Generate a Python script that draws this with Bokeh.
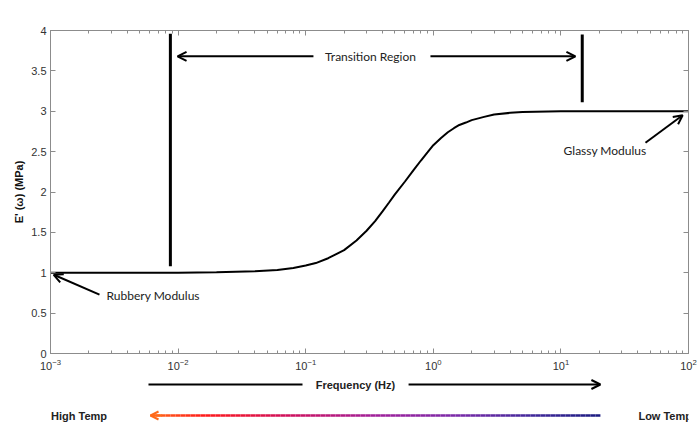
import numpy as np
from bokeh.plotting import figure
from bokeh.layouts import column
from bokeh.models import (Range1d, LinearAxis, FixedTicker, Label, Arrow, OpenHead)
from bokeh.embed import file_html
from bokeh.resources import INLINE

# ---- data ----
freq = [0.001, 0.01, 0.02, 0.04, 0.06, 0.08, 0.1, 0.12, 0.15, 0.2, 0.25, 0.3,
        0.35, 0.4, 0.45, 0.5, 0.6, 0.7, 0.8, 0.9, 1.0, 1.15, 1.3, 1.45, 1.6,
        1.8, 2.0, 2.5, 3.0, 4.0, 5.0, 10.0, 30.0, 100.0]
modulus = [1.0, 1.0, 1.005, 1.02, 1.035, 1.06, 1.09, 1.12, 1.18, 1.28, 1.40,
           1.52, 1.64, 1.76, 1.87, 1.97, 2.13, 2.27, 2.39, 2.49, 2.58, 2.67,
           2.74, 2.79, 2.83, 2.86, 2.89, 2.93, 2.96, 2.98, 2.99, 3.0, 3.0, 3.0]
x_ticks = [1e-3, 1e-2, 1e-1, 1e0, 1e1, 1e2]
y_ticks = [0, 0.5, 1, 1.5, 2, 2.5, 3, 3.5, 4]

# annotation anchors (frequency, modulus)
transition_left = [0.0087, 1.08, 3.96]
transition_right = [14.7, 3.11, 3.95]
transition_text = ["Transition Region", 0.322, 3.68]
rubbery = ["Rubbery Modulus", 0.00275, 0.72]
glassy = ["Glassy Modulus", 10.5, 2.51]
# bottom strip anchors (frequency, pixels from strip top)
freq_label = ["Frequency (Hz)", 0.2455, 6]
high_temp = ["High Temp", 0.00101, 37]
low_temp = ["Low Temp", 40.5, 37]

TOP_H, BOT_H = 378, 45

p = figure(width=697, height=TOP_H, x_axis_type="log",
           x_range=Range1d(1e-3, 1e2), y_range=Range1d(0, 4),
           output_backend="svg", toolbar_location=None,
           min_border_left=50, min_border_right=9, min_border_top=30,
           min_border_bottom=25)
p.grid.visible = False
p.outline_line_color = "#8c8c8c"
p.background_fill_color = "white"
p.border_fill_color = "white"

minor = [m * 10.0 ** e for e in range(-3, 2) for m in range(2, 10)]

def style_axis(ax, labels=True):
    ax.axis_line_color = "#8c8c8c"
    ax.major_tick_line_color = "#8c8c8c"
    ax.minor_tick_line_color = "#8c8c8c"
    ax.major_tick_in = 5
    ax.major_tick_out = 0
    ax.minor_tick_in = 3
    ax.minor_tick_out = 0
    ax.major_label_text_font = "Liberation Sans"
    ax.major_label_text_font_size = "11px" if labels else "1px"
    ax.major_label_text_color = "#333333"
    if not labels:
        ax.major_label_text_alpha = 0
        ax.major_label_standoff = 0

xa = p.xaxis[0]
xa.ticker = FixedTicker(ticks=x_ticks, minor_ticks=minor)
style_axis(xa)
xa.major_label_standoff = 5

ya = p.yaxis[0]
ya.ticker = FixedTicker(ticks=y_ticks)
style_axis(ya)
ya.major_label_standoff = 4
ya.axis_label = "E' (\u03c9) (MPa)"
ya.axis_label_text_font = "Liberation Sans"
ya.axis_label_text_font_size = "11px"
ya.axis_label_text_font_style = "bold"
ya.axis_label_text_color = "#111111"
ya.axis_label_standoff = 3

top = LinearAxis(ticker=FixedTicker(ticks=x_ticks, minor_ticks=minor))
style_axis(top, labels=False)
p.add_layout(top, "above")
right = LinearAxis(ticker=FixedTicker(ticks=y_ticks))
style_axis(right, labels=False)
right.minor_tick_in = 0
p.add_layout(right, "right")

# main curve
p.line(freq, modulus, line_color="black", line_width=2)

# transition region boundaries
p.segment(x0=[transition_left[0], transition_right[0]],
          y0=[transition_left[1], transition_right[1]],
          x1=[transition_left[0], transition_right[0]],
          y1=[transition_left[2], transition_right[2]],
          line_color="black", line_width=3)

def arrow(fig, x0, y0, x1, y1, color="black", head=True, width=2, size=9):
    kw = dict(x_start=x0, y_start=y0, x_end=x1, y_end=y1,
              line_color=color, line_width=width)
    kw["end"] = OpenHead(size=size, line_color=color, line_width=width) if head else None
    fig.add_layout(Arrow(**kw))

def label(fig, t, x, y, font="Lato", size="12px", bold=False, align="left", color="#222222"):
    fig.add_layout(Label(x=x, y=y, text=t, text_font=font, text_font_size=size,
                         text_font_style="bold" if bold else "normal",
                         text_align=align, text_baseline="middle", text_color=color))

# transition region arrows + text
arrow(p, 0.115, 3.68, 0.0099, 3.68)
arrow(p, 0.95, 3.68, 13.0, 3.68)
label(p, transition_text[0], transition_text[1], transition_text[2], align="center")

# rubbery / glassy
arrow(p, 0.00242, 0.73, 0.00106, 0.975)
label(p, rubbery[0], rubbery[1], rubbery[2])
arrow(p, 46.0, 2.61, 90.0, 2.95)
label(p, glassy[0], glassy[1], glassy[2])

# ---- bottom strip: frequency and temperature arrows (same x frame as above) ----
q = figure(width=697, height=BOT_H, x_axis_type="log",
           x_range=p.x_range, y_range=Range1d(BOT_H, 0),
           x_axis_location=None, y_axis_location=None,
           output_backend="svg", toolbar_location=None,
           min_border_left=50, min_border_right=9, min_border_top=0,
           min_border_bottom=0)
q.grid.visible = False
q.outline_line_color = None
q.background_fill_color = "white"
q.border_fill_color = "white"

fy = freq_label[2]
arrow(q, 0.0944, fy, 0.00586, fy, head=False)
arrow(q, 0.64, fy, 20.4, fy)
label(q, freq_label[0], freq_label[1], fy, font="Liberation Sans",
      size="11px", bold=True, align="center")

stops = [(0.0, "#ff6a1a"), (0.12, "#ff1a1a"), (0.3, "#d0105a"),
         (0.5, "#a0209a"), (0.68, "#7a2aa8"), (0.85, "#40289a"), (1.0, "#1a1a80")]

def interp_color(t):
    for (t0, c0), (t1, c1) in zip(stops[:-1], stops[1:]):
        if t0 <= t <= t1:
            f = (t - t0) / (t1 - t0)
            a = [int(c0[i:i + 2], 16) for i in (1, 3, 5)]
            b = [int(c1[i:i + 2], 16) for i in (1, 3, 5)]
            return "#%02x%02x%02x" % tuple(round(a[k] + (b[k] - a[k]) * f) for k in range(3))
    return stops[-1][1]

ty = high_temp[2]
g0, g1 = np.log10(0.00608), np.log10(20.4)
n = 90
edges = 10 ** np.linspace(g0, g1, n + 1)
cols = [interp_color((i + 0.5) / n) for i in range(n)]
q.segment(x0=edges[:-1], y0=[ty] * n, x1=edges[1:], y1=[ty] * n,
          line_color=cols, line_width=2.5)
arrow(q, 0.0075, ty, 0.00608, ty, color="#ff6a1a", size=8)
label(q, high_temp[0], high_temp[1], ty, font="Liberation Sans", size="11px", bold=True)
label(q, low_temp[0], low_temp[1], ty, font="Liberation Sans", size="11px", bold=True)

layout = column(p, q, spacing=0)
open("out.html", "w").write(file_html(layout, INLINE))
